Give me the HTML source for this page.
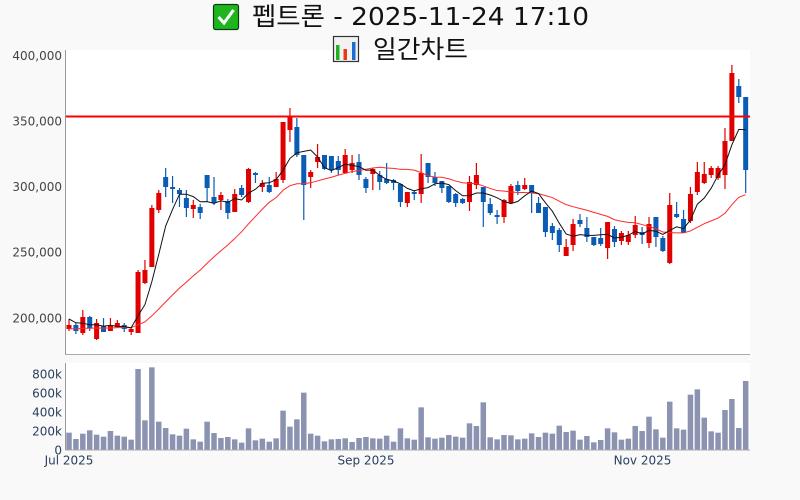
<!DOCTYPE html>
<html><head><meta charset="utf-8">
<style>
html,body{margin:0;padding:0;background:#f9f9f9;width:800px;height:500px;overflow:hidden;}
svg{display:block;}
text{font-family:"DejaVu Sans","Noto Sans CJK KR",sans-serif;}
</style></head>
<body>
<svg id="c" width="800" height="500" xmlns="http://www.w3.org/2000/svg">
<rect x="0" y="0" width="800" height="500" fill="#f9f9f9"/>
<rect x="65" y="50" width="685" height="305" fill="#ffffff"/>
<rect x="65" y="363" width="685" height="87" fill="#ffffff"/>
<g id="vol"></g>
<g id="cnd"></g>
<g id="ma"></g>
<line x1="65" y1="116.5" x2="750" y2="116.5" stroke="#ff0000" stroke-width="2"/>
<line x1="65.5" y1="50" x2="65.5" y2="355" stroke="#999" stroke-width="1"/>
<line x1="65" y1="354.5" x2="750" y2="354.5" stroke="#aaa" stroke-width="1"/>
<line x1="65.5" y1="363" x2="65.5" y2="450" stroke="#999" stroke-width="1"/>
<line x1="65" y1="450" x2="750" y2="450" stroke="#aaa" stroke-width="1"/>

<g font-size="12" fill="#444" text-anchor="end">
<text x="62" y="60">400,000</text>
<text x="62" y="125.3">350,000</text>
<text x="62" y="191">300,000</text>
<text x="62" y="256.6">250,000</text>
<text x="62" y="322.6">200,000</text>
</g>
<g font-size="12" fill="#2a3f5f" text-anchor="end">
<text x="62" y="378.6">800k</text>
<text x="62" y="397.5">600k</text>
<text x="62" y="416.5">400k</text>
<text x="62" y="435.4">200k</text>
<text x="62" y="454.3">0</text>
</g>
<g font-size="12" fill="#2a3f5f" text-anchor="middle">
<text x="69" y="464.5">Jul 2025</text>
<text x="366" y="464.5">Sep 2025</text>
<text x="642.5" y="464.5">Nov 2025</text>
</g>

<!-- title -->
<rect x="213.5" y="4.5" width="25" height="25" rx="2" fill="#1fb51f" stroke="#0c3d0c" stroke-width="1.2"/>
<path d="M218.5 17 L224 23 L233.5 10" fill="none" stroke="#fff" stroke-width="3"/>
<text x="252" y="25" font-size="25" fill="#111" textLength="337" lengthAdjust="spacingAndGlyphs">펩트론 - 2025-11-24 17:10</text>

<rect x="333.5" y="36.5" width="25" height="25" fill="#f2f2f2" stroke="#333" stroke-width="1.2"/>
<rect x="336" y="45" width="3.5" height="15" fill="#22b022"/>
<rect x="343.5" y="49" width="3.5" height="11" fill="#e83a1a"/>
<rect x="352" y="42" width="3.5" height="18" fill="#1a6fd0"/>
<text x="373" y="58" font-size="25" fill="#111" textLength="95" lengthAdjust="spacingAndGlyphs">일간차트</text>
</svg>
<script>
(function(){
var NS="http://www.w3.org/2000/svg";
var D=[
['R',325,329,319,331],['B',325,331,323,334],['R',317,333,310,335],['B',317,328,316,331],['R',323,339,319,340],
['B',326,332,318,332],['R',326,331,318,331],['R',323,327,320,328],['B',325,329,323,332],['R',329,332,327,335],
['R',272,333,270,333],['R',270,283,260,284],['R',208,267,205,267],['R',193,210,190,213],['B',177,187,168,197],
['B',187,189,176,203],['B',190,194,188,207],['B',198,208,190,217],['R',205,209,200,218],['B',207,213,204,219],
['B',175,188,175,202],['B',197,203,177,205],['R',195,200,192,210],['B',201,213,199,219],['R',194,212,189,212],
['B',188,195,185,197],['R',169,202,168,203],['B',173,175,172,183],['R',183,187,180,192],['B',185,192,177,193],
['R',179,187,172,187],['R',122,180,122,183],['R',116,130,108,142],['B',127,155,118,157],['B',155,185,155,220],
['R',172,177,170,188],['R',157,162,144,168],['B',155,169,155,170],['B',156,170,156,173],['B',161,170,156,175],
['R',155,173,149,173],['R',163,170,155,173],['B',162,175,154,180],['B',179,188,177,193],['R',169,174,168,190],
['B',175,182,171,190],['B',179,183,163,184],['B',180,183,179,190],['B',184,202,184,207],['R',192,203,192,207],
['B',192,194,190,200],['R',173,194,154,203],['B',163,177,163,183],['B',177,183,172,186],['B',181,188,181,193],
['B',186,202,186,203],['B',194,203,193,207],['B',199,203,198,204],['R',182,202,176,211],['R',175,185,163,189],
['B',187,202,187,227],['B',204,213,198,215],['B',215,217,210,224],['R',200,217,199,223],['R',186,203,184,203],
['B',185,191,181,195],['R',185,189,178,190],['B',185,193,185,213],['B',203,213,197,213],['B',207,232,207,237],
['B',226,233,223,240],['B',230,245,228,252],['R',247,256,239,256],['R',224,245,219,251],['B',220,224,214,227],
['B',228,237,217,242],['B',237,245,237,246],['B',238,244,228,246],['R',222,248,222,259],['B',229,242,226,247],
['R',233,241,231,245],['R',235,242,231,245],['R',225,235,216,238],['B',232,235,227,244],['R',224,243,217,248],
['B',217,237,217,247],['B',238,251,236,252],['R',205,263,193,264],['B',214,217,202,218],['B',219,233,210,233],
['R',194,221,187,223],['R',172,192,162,195],['R',174,183,162,184],['R',168,175,166,178],['R',168,178,166,180],
['R',141,175,128,189],['R',73,141,65,141],['B',86,97,79,103],['B',97,170,97,193]
];
var V=[248,267,251,241,254,260,243,257,260,269,57,211,52,215,234,253,257,236,268,275,215,249,264,261,268,278,235,271,266,275,265,182,230,208,128,251,257,274,268,267,265,276,264,261,265,266,257,275,
235,265,269,172,262,266,263,255,260,263,220,228,157,262,268,255,256,268,266,250,261,248,251,227,246,242,269,258,277,270,235,247,269,266,228,243,200,238,263,155,235,239,134,118,203,244,248,180,147,234,93];
function X(i){return 69+6.905*i;}
function el(n,a,p){var e=document.createElementNS(NS,n);for(var k in a)e.setAttribute(k,a[k]);p.appendChild(e);return e;}
var gv=document.getElementById('vol'),gc=document.getElementById('cnd'),gm=document.getElementById('ma');
for(var i=0;i<V.length;i++){var y=350+V[i]/3;el('rect',{x:(X(i)-2.75).toFixed(2),y:y.toFixed(2),width:5.5,height:(450-y).toFixed(2),fill:'#8b93b1'},gv);}
var closes=[];
for(var i=0;i<D.length;i++){
 var d=D[i],c=d[0]=='R'?'#e00000':'#0a5cb5',x=X(i);
 el('rect',{x:(x-0.6).toFixed(2),y:d[3],width:1.2,height:Math.max(0.5,d[4]-d[3]),fill:c},gc);
 el('rect',{x:(x-2.5).toFixed(2),y:d[1],width:5,height:Math.max(1,d[2]-d[1]),fill:c},gc);
 closes.push(d[0]=='R'?d[1]:d[2]);
}
var p5=[312,315,320,323],p20=[];for(var k=0;k<19;k++)p20.push(329);
var a5=p5.concat(closes),a20=p20.concat(closes);
var s5=[],s20=[];
for(var i=0;i<closes.length;i++){
 var s=0;for(var k=0;k<5;k++)s+=a5[i+k];s5.push(X(i).toFixed(2)+','+(s/5).toFixed(2));
 s=0;for(var k=0;k<20;k++)s+=a20[i+k];s20.push(X(i).toFixed(2)+','+(s/20).toFixed(2));
}
el('polyline',{points:s20.join(' '),fill:'none',stroke:'#ff2a2a','stroke-width':1},gm);
el('polyline',{points:s5.join(' '),fill:'none',stroke:'#111','stroke-width':1},gm);
})();
</script>
</body></html>
